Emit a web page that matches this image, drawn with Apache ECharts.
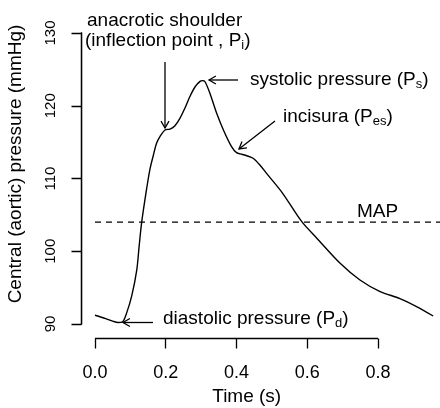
<!DOCTYPE html>
<html>
<head>
<meta charset="utf-8">
<script src="https://cdn.jsdelivr.net/npm/echarts@6/dist/echarts.min.js"></script>
<style>html,body{margin:0;padding:0;background:#fff}#c{width:440px;height:408px}</style>
</head>
<body>
<div id="c"></div>
<script>
// ---- data ----
const time = [0, 0.030, 0.050, 0.065, 0.078, 0.090, 0.104, 0.118, 0.125, 0.132, 0.146, 0.155, 0.165, 0.174, 0.184, 0.198, 0.212, 0.226, 0.240, 0.254, 0.268, 0.283, 0.297, 0.304, 0.311, 0.325, 0.344, 0.363, 0.386, 0.400, 0.415, 0.429, 0.447, 0.466, 0.485, 0.530, 0.584, 0.627, 0.693, 0.749, 0.806, 0.862, 0.909, 0.956];
const pressure = [91.2, 90.75, 90.4, 90.2, 90.3, 91.6, 93.9, 97.4, 100.8, 104.0, 108.6, 111.2, 113.2, 114.85, 115.8, 116.67, 116.8, 117.26, 118.27, 119.65, 121.24, 122.61, 123.35, 123.45, 123.3, 121.7, 118.96, 116.67, 114.37, 113.55, 113.33, 113.13, 112.78, 111.86, 110.7, 108.0, 104.1, 101.8, 98.35, 96.05, 94.45, 93.5, 92.4, 91.1];
const xTicks = [0.0, 0.2, 0.4, 0.6, 0.8];
const yTicks = [90, 100, 110, 120, 130];
const mapValue = 104;
const xTitle = 'Time (s)';
const yTitle = 'Central (aortic) pressure (mmHg)';

// ---- layout (R-style plot region, axes drawn at its edge) ----
const GRID = {left: 60, right: 0, top: 20, bottom: 50};
const XMIN = -0.09894, XMAX = 0.97527, YMIN = 85.327, YMAX = 131.787;
const AXIS_X = -0.0381;    // where the y axis line sits
const AXIS_Y = 88.0;       // where the x axis line sits
const X_PER_PX = (XMAX - XMIN) / (440 - GRID.left - GRID.right);
const Y_PER_PX = (YMAX - YMIN) / (408 - GRID.top - GRID.bottom);
const TICK_PX = 10;
const FONT = 'Liberation Sans, Arial, Helvetica, sans-serif';

const chart = echarts.init(document.getElementById('c'), null, {renderer: 'canvas'});

const subRich = {sub: {fontSize: 13, fontFamily: FONT, lineHeight: 13, verticalAlign: 'bottom', fill: '#000'}};
function txt(text, x, y, align) {
  return {type: 'text', x: x, y: y, silent: true,
    style: {text: text, fontSize: 19, fontFamily: FONT, fill: '#000', lineHeight: 21,
      textAlign: align || 'left', textVerticalAlign: 'middle', rich: subRich}};
}
function seg(x1, y1, x2, y2) {
  return {type: 'polyline', silent: true, shape: {points: [[x1, y1], [x2, y2]]},
    style: {stroke: '#000', lineWidth: 1.3, fill: null}};
}
function arrow(x1, y1, x2, y2) {
  const a = Math.atan2(y2 - y1, x2 - x1), L = 8, w = Math.PI / 6;
  return [
    seg(x1, y1, x2, y2),
    {type: 'polyline', silent: true, shape: {points: [
      [x2 - L * Math.cos(a - w), y2 - L * Math.sin(a - w)], [x2, y2],
      [x2 - L * Math.cos(a + w), y2 - L * Math.sin(a + w)]]}, style: {stroke: '#000', lineWidth: 1.3, fill: null}}
  ];
}

// y axis line as a thin filled bar, positioned from the axis scale settings
const axisLineX = GRID.left + (AXIS_X - XMIN) / X_PER_PX;
const axisTopY = GRID.top + (YMAX - yTicks[yTicks.length - 1]) / Y_PER_PX;
const axisBotY = GRID.top + (YMAX - yTicks[0]) / Y_PER_PX;

const graphics = [
  txt('anacrotic shoulder', 87, 20.5),
  txt('(inflection point , P{sub|i})', 85, 41),
  txt('systolic pressure (P{sub|s})', 250, 80),
  txt('incisura (P{sub|es})', 283, 117),
  txt('MAP', 377.5, 211.5, 'center'),
  txt('diastolic pressure (P{sub|d})', 163, 319),
  txt(xTitle, 246.7, 397, 'center'),
  Object.assign(txt(yTitle, 16, 164, 'center'), {rotation: Math.PI / 2}),
  {type: 'rect', silent: true, z: 100,
    shape: {x: axisLineX - 0.65, y: axisTopY - 0.65, width: 1.3, height: axisBotY - axisTopY + 1.3},
    style: {fill: '#000'}}
].concat(arrow(165, 62, 165, 128), arrow(238, 80, 209, 80), arrow(275, 121, 239, 149), arrow(153, 322.5, 123, 322.5));

// axis frame: lines from first to last tick, outward ticks
const frameSegs = [
  [[AXIS_X, yTicks[0]], [AXIS_X, yTicks[yTicks.length - 1]]],
  [[xTicks[0], AXIS_Y], [xTicks[xTicks.length - 1], AXIS_Y]]
].concat(yTicks.map(v => [[AXIS_X, v], [AXIS_X - TICK_PX * X_PER_PX, v]]))
 .concat(xTicks.map(v => [[v, AXIS_Y], [v, AXIS_Y - TICK_PX * Y_PER_PX]]));

const frameStyle = {color: '#000', width: 1.3, opacity: 1};

chart.setOption({
  animation: false,
  backgroundColor: '#fff',
  grid: Object.assign({containLabel: false}, GRID),
  xAxis: {type: 'value', min: XMIN, max: XMAX,
    axisLine: {show: false}, splitLine: {show: false}, axisTick: {show: false},
    axisLabel: {customValues: xTicks, margin: 6.5, fontSize: 18, fontFamily: FONT, color: '#000',
      formatter: v => v.toFixed(1)}},
  yAxis: {type: 'value', min: YMIN, max: YMAX,
    axisLine: {show: false}, splitLine: {show: false}, axisTick: {show: false},
    axisLabel: {customValues: yTicks, rotate: 90, margin: 1.5, fontSize: 15, fontFamily: FONT, color: '#000'}},
  series: [
    {type: 'line', data: time.map((t, i) => [t, pressure[i]]), smooth: 0.3, showSymbol: false,
      lineStyle: {color: '#000', width: 1.4}, silent: true},
    {type: 'line', data: [[xTicks[0], mapValue], [XMAX, mapValue]], showSymbol: false,
      lineStyle: {color: '#000', width: 1.2, type: [6, 5]}, silent: true},
    {type: 'lines', coordinateSystem: 'cartesian2d', silent: true, z: 5,
      lineStyle: frameStyle,
      data: frameSegs.map(c => ({coords: c}))}
  ],
  graphic: graphics
});
</script>
</body>
</html>
